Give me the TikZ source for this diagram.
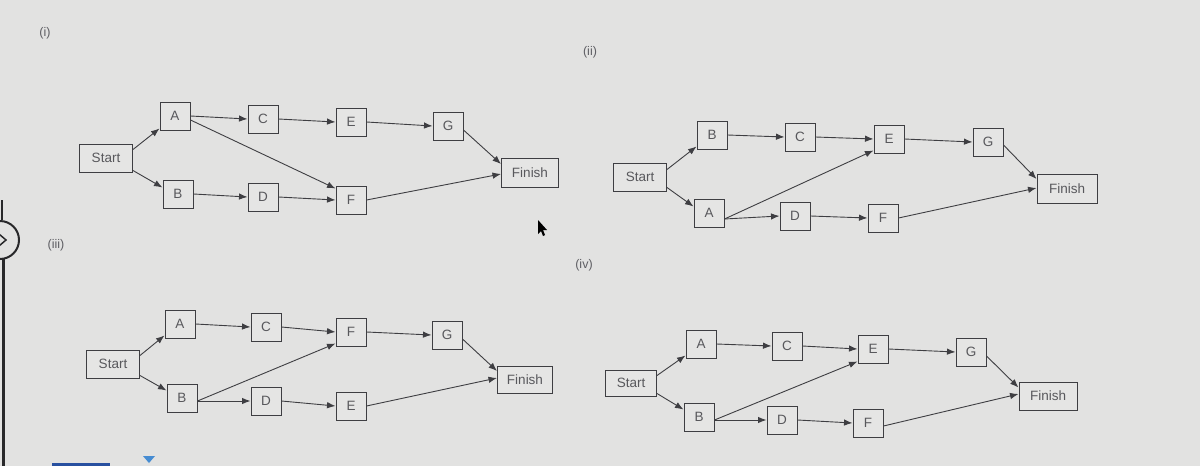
\documentclass[tikz,border=0pt]{standalone}
\usepackage{fontspec}
\setmainfont{Liberation Sans}
\usetikzlibrary{arrows.meta}
\definecolor{bgc}{RGB}{226,226,225}
\definecolor{boxc}{RGB}{229,229,228}
\definecolor{linec}{RGB}{62,62,66}
\definecolor{textc}{RGB}{88,88,92}
\definecolor{labc}{RGB}{95,95,100}
\definecolor{uidark}{RGB}{40,40,42}
\definecolor{uiblue}{RGB}{70,140,210}
\definecolor{uiblue2}{RGB}{40,80,160}
\begin{document}
\begin{tikzpicture}[x=1pt,y=1pt,
  box/.style={draw=linec, fill=boxc, line width=1pt, minimum width=30pt, minimum height=28pt,
    inner sep=0pt, text=textc, font=\fontsize{13.5}{15}\selectfont},
  wide/.style={box, minimum width=53pt},
  fin/.style={box, minimum width=57pt, minimum height=29pt},
  arr/.style={draw=linec, line width=0.9pt, -{Latex[length=8.5pt,width=6.5pt]}},
  lab/.style={text=labc, font=\fontsize{12.5}{14}\selectfont, inner sep=0pt}]
\useasboundingbox (0,0) rectangle (1200,-466);
\fill[bgc] (0,0) rectangle (1200,-466);

% screen UI pieces
\draw[uidark, line width=1.2pt] (2,-200) -- (2,-220);
\draw[uidark, line width=3pt] (3,-259) -- (3,-466);
\draw[uidark, line width=2pt] (0,-240) circle (19);
\draw[uidark, line width=1.5pt] (-1,-234) -- (6,-240) -- (-1,-246);
\fill[uiblue] (143,-456) -- (155,-456) -- (149,-463) -- cycle;
\fill[uiblue2] (52,-463) rectangle (110,-466);
\fill[black] (538,-220) -- (538,-234) -- (541,-231) -- (543,-236) -- (545,-235) -- (543,-230) -- (547,-230) -- cycle;

% labels
\node[lab] (li) at (45,-33) {(i)};
\node[lab] (lii) at (590,-52) {(ii)};
\node[lab] (liii) at (56,-245) {(iii)};
\node[lab] (liv) at (584,-265) {(iv)};

% ---------- (i)
\node[wide] (s1) at (106,-158) {Start};
\node[box] (a1) at (175,-116) {A};
\node[box] (b1) at (178,-194) {B};
\node[box] (c1) at (263,-119) {C};
\node[box] (d1) at (263,-197) {D};
\node[box] (e1) at (351,-122) {E};
\node[box] (f1) at (351,-200) {F};
\node[box] (g1) at (448,-126) {G};
\node[fin] (z1) at (530,-173) {Finish};
\draw[arr] ([yshift=-6pt]s1.north east) -- ([yshift=2pt]a1.south west);
\draw[arr] ([yshift=2pt]s1.south east) -- ([yshift=-8pt]b1.north west);
\draw[arr] (a1.east) -- (c1.west);
\draw[arr] ([yshift=-4pt]a1.east) -- ([yshift=-3pt]f1.north west);
\draw[arr] (b1.east) -- (d1.west);
\draw[arr] (c1.east) -- (e1.west);
\draw[arr] (d1.east) -- (f1.west);
\draw[arr] (e1.east) -- (g1.west);
\draw[arr] ([yshift=-4pt]g1.east) -- ([yshift=-6pt]z1.north west);
\draw[arr] (f1.east) -- ([yshift=-1pt]z1.west);

% ---------- (ii)
\node[wide] (s2) at (640,-177) {Start};
\node[box] (b2) at (712,-135) {B};
\node[box] (a2) at (709,-213) {A};
\node[box] (c2) at (800,-137) {C};
\node[box] (d2) at (795,-216) {D};
\node[box] (e2) at (889,-139) {E};
\node[box] (f2) at (883,-218) {F};
\node[box] (g2) at (988,-142) {G};
\node[fin, minimum width=60pt] (z2) at (1067,-189) {Finish};
\draw[arr] ([yshift=-7pt]s2.north east) -- ([yshift=3pt]b2.south west);
\draw[arr] ([yshift=4pt]s2.south east) -- ([yshift=-8pt]a2.north west);
\draw[arr] (b2.east) -- (c2.west);
\draw[arr] (c2.east) -- (e2.west);
\draw[arr] ([yshift=-6pt]a2.east) -- ([yshift=3pt]e2.south west);
\draw[arr] ([yshift=-6pt]a2.east) -- (d2.west);
\draw[arr] (d2.east) -- (f2.west);
\draw[arr] (e2.east) -- (g2.west);
\draw[arr] ([yshift=-3pt]g2.east) -- ([yshift=-5pt]z2.north west);
\draw[arr] (f2.east) -- ([yshift=1pt]z2.west);

% ---------- (iii)
\node[wide] (s3) at (113,-364) {Start};
\node[box] (a3) at (180,-324) {A};
\node[box] (b3) at (182,-398) {B};
\node[box] (c3) at (266,-327) {C};
\node[box] (d3) at (266,-401) {D};
\node[box] (f3) at (351,-332) {F};
\node[box] (e3) at (351,-406) {E};
\node[box] (g3) at (447,-335) {G};
\node[fin, minimum width=55pt, minimum height=27pt] (z3) at (525,-380) {Finish};
\draw[arr] ([yshift=-6pt]s3.north east) -- ([yshift=3pt]a3.south west);
\draw[arr] ([yshift=3pt]s3.south east) -- ([yshift=-7pt]b3.north west);
\draw[arr] (a3.east) -- (c3.west);
\draw[arr] (c3.east) -- (f3.west);
\draw[arr] ([yshift=-3pt]b3.east) -- ([yshift=3pt]f3.south west);
\draw[arr] ([yshift=-3pt]b3.east) -- (d3.west);
\draw[arr] (d3.east) -- (e3.west);
\draw[arr] (f3.east) -- (g3.west);
\draw[arr] ([yshift=-4pt]g3.east) -- ([yshift=-5pt]z3.north west);
\draw[arr] (e3.east) -- ([yshift=2pt]z3.west);

% ---------- (iv)
\node[wide, minimum width=51pt, minimum height=26pt] (s4) at (631,-383) {Start};
\node[box] (a4) at (701,-344) {A};
\node[box] (b4) at (699,-417) {B};
\node[box] (c4) at (787,-346) {C};
\node[box] (d4) at (782,-420) {D};
\node[box] (e4) at (873,-349) {E};
\node[box] (f4) at (868,-423) {F};
\node[box] (g4) at (971,-352) {G};
\node[fin, minimum width=58pt, minimum height=28pt] (z4) at (1048,-396) {Finish};
\draw[arr] ([yshift=-6pt]s4.north east) -- ([yshift=3pt]a4.south west);
\draw[arr] ([yshift=3pt]s4.south east) -- ([yshift=-7pt]b4.north west);
\draw[arr] (a4.east) -- (c4.west);
\draw[arr] (c4.east) -- (e4.west);
\draw[arr] ([yshift=-3pt]b4.east) -- ([yshift=2pt]e4.south west);
\draw[arr] ([yshift=-3pt]b4.east) -- (d4.west);
\draw[arr] (d4.east) -- (f4.west);
\draw[arr] (e4.east) -- (g4.west);
\draw[arr] ([yshift=-4pt]g4.east) -- ([yshift=-6pt]z4.north west);
\draw[arr] ([yshift=-3pt]f4.east) -- ([yshift=2pt]z4.west);
\end{tikzpicture}
\end{document}
